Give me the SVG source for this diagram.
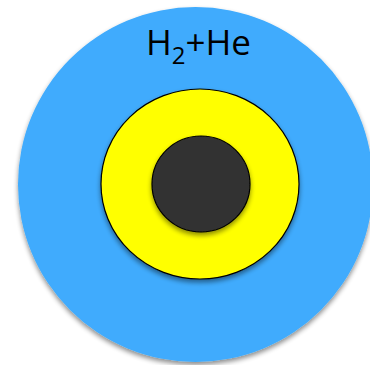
<svg xmlns="http://www.w3.org/2000/svg" width="370" height="365" viewBox="0 0 370 365">
<defs>
<filter id="sh" x="-20%" y="-20%" width="140%" height="140%">
<feGaussianBlur in="SourceAlpha" stdDeviation="2.5"/>
<feOffset dx="0" dy="3" result="b"/>
<feComponentTransfer><feFuncA type="linear" slope="0.45"/></feComponentTransfer>
<feMerge><feMergeNode/><feMergeNode in="SourceGraphic"/></feMerge>
</filter>
<style>
.lbl{font-family:"Open Sans","Liberation Sans",sans-serif;fill:#000;}
</style>
</defs>
<rect width="370" height="365" fill="#fff"/>
<g id="envelope"><ellipse cx="195.5" cy="184.5" rx="177.5" ry="177.5" fill="#3fabfd" filter="url(#sh)"/></g>
<g id="mantle"><ellipse cx="200" cy="184" rx="99" ry="95" fill="#ffff00" stroke="#000" stroke-width="1.2" filter="url(#sh)"/></g>
<g id="core"><ellipse cx="201" cy="184" rx="49" ry="48" fill="#333" stroke="#000" stroke-width="1.2" filter="url(#sh)"/></g>
<g id="label"><text class="lbl" x="146" y="55" font-size="35">H<tspan font-size="24" dy="9">2</tspan><tspan dy="-9">+He</tspan></text></g>
</svg>
